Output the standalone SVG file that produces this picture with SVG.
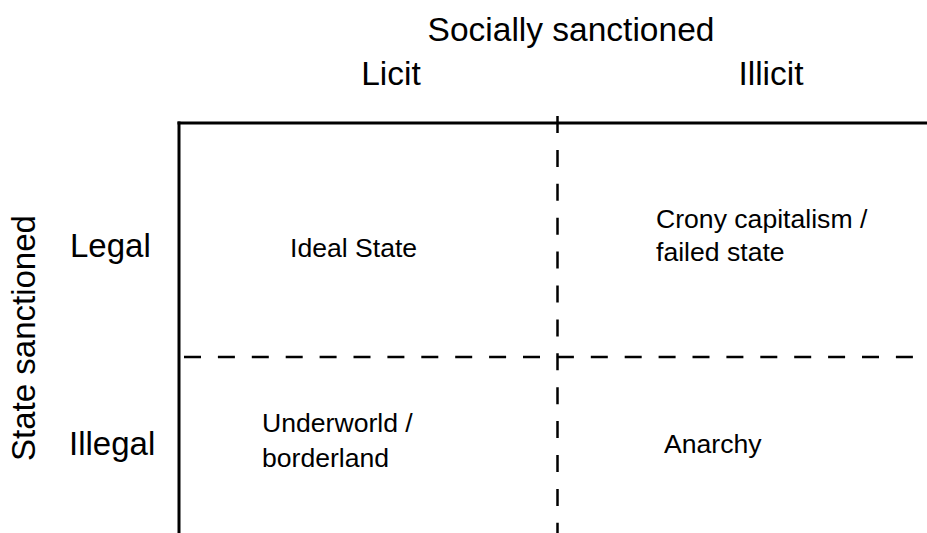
<svg xmlns="http://www.w3.org/2000/svg" width="927" height="533" viewBox="0 0 927 533">
<style>
text{font-family:"Liberation Sans",Arial,sans-serif;fill:#000}
.hdr{font-size:33.5px}
.lbl{font-size:33px}
.cell{font-size:26.6px}
.solid{stroke:#000;stroke-width:3;fill:none}
.dash{stroke:#000;stroke-width:2.5;fill:none;stroke-dasharray:17 16.9}
</style>
<rect width="927" height="533" fill="#fff"/>
<g id="connectors">
<line class="solid" x1="179" y1="121.5" x2="179" y2="533"/>
<line class="solid" x1="177.5" y1="123" x2="927" y2="123"/>
<line class="dash" x1="557.5" y1="116" x2="557.5" y2="533"/>
<line class="dash" x1="184" y1="357" x2="927" y2="357"/>
</g>
<g id="header-social"><text class="hdr" x="571" y="40.5" text-anchor="middle">Socially sanctioned</text></g>
<g id="header-licit"><text class="hdr" x="391" y="85" text-anchor="middle">Licit</text></g>
<g id="header-illicit"><text class="hdr" x="771" y="85" text-anchor="middle">Illicit</text></g>
<g id="header-state"><text class="lbl" transform="translate(35,338) rotate(-90)" text-anchor="middle">State sanctioned</text></g>
<g id="row-legal"><text class="lbl" x="70" y="256.5">Legal</text></g>
<g id="row-illegal"><text class="lbl" x="69" y="455">Illegal</text></g>
<g id="cell-ideal"><text class="cell" x="290" y="256.5">Ideal State</text></g>
<g id="cell-crony"><text class="cell" x="656" y="228.3">Crony capitalism /</text><text class="cell" x="656" y="261">failed state</text></g>
<g id="cell-underworld"><text class="cell" x="262" y="432.3">Underworld /</text><text class="cell" x="262" y="466.7">borderland</text></g>
<g id="cell-anarchy"><text class="cell" x="664" y="453">Anarchy</text></g>
</svg>
